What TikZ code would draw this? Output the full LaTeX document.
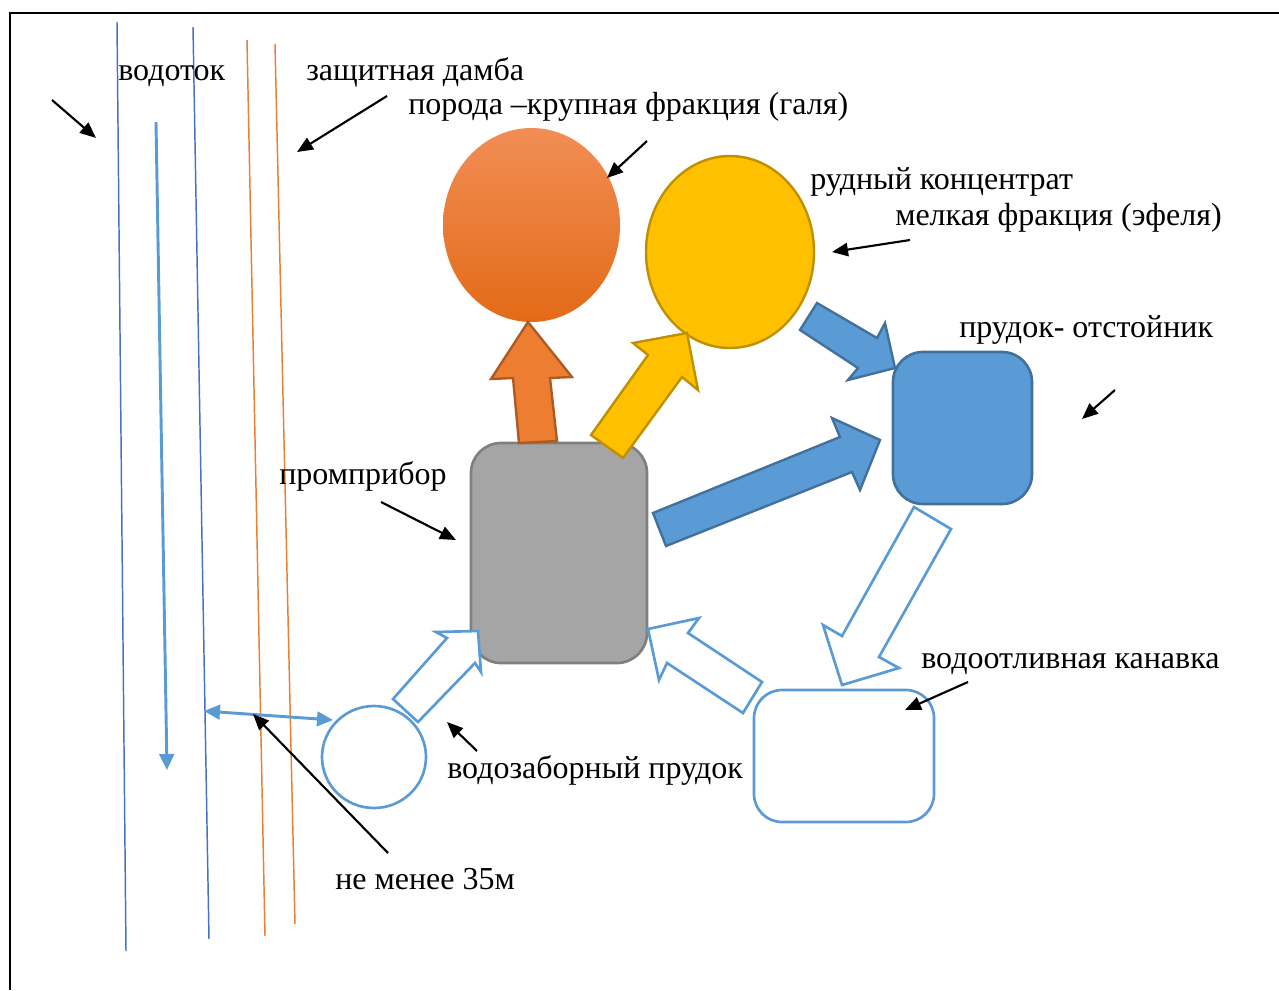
\documentclass[tikz,border=0pt]{standalone}
\usepackage{fontspec}
\setmainfont{Liberation Serif}
\usetikzlibrary{arrows.meta,shapes.geometric}
\definecolor{dblue}{HTML}{4472C4}
\definecolor{lblue}{HTML}{5B9BD5}
\definecolor{bstroke}{HTML}{41719C}
\definecolor{orng}{HTML}{ED7D31}
\definecolor{orstroke}{HTML}{AE5A21}
\definecolor{yel}{HTML}{FFC000}
\definecolor{yelstroke}{HTML}{BF9000}
\definecolor{gfill}{HTML}{A5A5A5}
\definecolor{gstroke}{HTML}{7F7F7F}
\definecolor{ortop}{HTML}{F18E55}
\definecolor{orbot}{HTML}{E36A17}
\tikzset{
  lbl/.style={anchor=base west, inner sep=0pt, font=\fontsize{24}{28}\selectfont},
  pointer/.style={draw=black, line width=1.6pt, -{Triangle[length=12pt,width=10pt]}},
  riverline/.style={draw=dblue, line width=1.1pt},
  damline/.style={draw=orng, line width=1.1pt},
  flow/.style={draw=lblue, line width=2.2pt},
  whitearrow/.style={draw=lblue, fill=white, line width=2pt, line join=miter},
  bluearrow/.style={draw=bstroke, fill=lblue, line width=1.8pt, line join=miter},
}
\begin{document}
\begin{tikzpicture}[x=0.75pt,y=-0.75pt]
\useasboundingbox (0,0) rectangle (1279,990);
% frame
\draw[line width=2.2pt] (10,990) -- (10,13) -- (1279,13);
% river and dam lines
\draw[riverline] (117,22) -- (126,951);
\draw[riverline] (193,27) -- (209,939);
\draw[damline] (247,40) -- (265,936);
\draw[damline] (275,44) -- (295,924);
\coordinate (fs) at (156,122);
\coordinate (fe) at (167,770);
\draw[flow, -{Triangle[length=12pt,width=11pt]}] (fs) -- (fe);

% nodes
\node[ellipse, inner sep=0pt, minimum width=132.75pt, minimum height=145.5pt, top color=ortop, bottom color=orbot, draw=none] (rock) at (531.5,225) {};
\node[ellipse, inner sep=0pt, minimum width=126pt, minimum height=144pt, fill=yel, draw=yelstroke, line width=1.8pt] (ore) at (730,252) {};
\node[rectangle, rounded corners=22.5pt, inner sep=0pt, minimum width=132pt, minimum height=165pt, fill=gfill, draw=gstroke, line width=2pt] (plant) at (559,553) {};
\node[rectangle, rounded corners=22.5pt, inner sep=0pt, minimum width=104.25pt, minimum height=114pt, fill=lblue, draw=bstroke, line width=2pt] (settle) at (962.5,428) {};
\node[rectangle, rounded corners=21pt, inner sep=0pt, minimum width=135pt, minimum height=99pt, fill=white, draw=lblue, line width=2pt] (ditch) at (844,756) {};
\node[ellipse, inner sep=0pt, minimum width=78pt, minimum height=76.5pt, fill=white, draw=lblue, line width=2pt] (intake) at (374,757) {};

% block arrows
\draw[draw=orstroke, fill=orng, line width=1.8pt, line join=miter]
  (519,443) -- (513,378) -- (491,379) -- (528,322) -- (572,377) -- (550,378) -- (557,441) -- cycle;
\draw[draw=yelstroke, fill=yel, line width=1.8pt, line join=miter]
  (591,435) -- (648,355) -- (633,343) -- (687,333) -- (698,390) -- (682,377) -- (623,458) -- cycle;
\draw[bluearrow]
  (800,330) -- (817,303) -- (877,338) -- (885,323) -- (895,368) -- (848,380) -- (858,368) -- cycle;
\draw[bluearrow]
  (653,513) -- (840,437) -- (832,418) -- (880,440) -- (860,490) -- (852,472) -- (666,546) -- cycle;
\draw[whitearrow]
  (914,507) -- (951,529) -- (879,657) -- (899,668) -- (842,685) -- (823,625) -- (842,636) -- cycle;
\draw[whitearrow]
  (762,682) -- (743,713) -- (667,663) -- (659,680) -- (648,629) -- (699,618) -- (688,633) -- cycle;
\draw[whitearrow]
  (393,699) -- (418,722) -- (475,663) -- (481,672) -- (478,631) -- (436,632) -- (447,638) -- cycle;

% distance arrow
\coordinate (dl) at (204,711);
\coordinate (dr) at (333,720);
\draw[flow, {Triangle[length=12pt,width=11pt]}-{Triangle[length=12pt,width=11pt]}] (dl) -- (dr);

% labels
\node[lbl] (t1) at (118,80) {водоток};
\node[lbl] (t2) at (306,80) {защитная дамба};
\node[lbl] (t3) at (408,114) {порода –крупная фракция (галя)};
\node[lbl] (t4) at (810,189) {рудный концентрат};
\node[lbl] (t5) at (895,225) {мелкая фракция (эфеля)};
\node[lbl] (t6) at (959,337) {прудок- отстойник};
\node[lbl] (t7) at (279,484) {промприбор};
\node[lbl] (t8) at (921,668) {водоотливная канавка};
\node[lbl] (t9) at (447,778) {водозаборный прудок};
\node[lbl] (t10) at (335,889) {не менее 35м};

% pointer arrows
\coordinate (a1s) at (52,100);   \coordinate (a1e) at (96,138);
\coordinate (a2s) at (387,96);   \coordinate (a2e) at (297,152);
\coordinate (a3s) at (647,141);  \coordinate (a3e) at (607,178);
\coordinate (a4s) at (910,240);  \coordinate (a4e) at (832,252);
\coordinate (a5s) at (1115,390); \coordinate (a5e) at (1082,419);
\coordinate (a6s) at (381,502);  \coordinate (a6e) at (456,540);
\coordinate (a7s) at (968,682);  \coordinate (a7e) at (905,710);
\coordinate (a8s) at (477,751);  \coordinate (a8e) at (447,722);
\coordinate (a9s) at (388,853);  \coordinate (a9e) at (253,714);
\foreach \s/\e in {a1s/a1e,a2s/a2e,a3s/a3e,a4s/a4e,a5s/a5e,a6s/a6e,a7s/a7e,a8s/a8e,a9s/a9e}
  \draw[pointer] (\s) -- (\e);
\end{tikzpicture}
\end{document}
